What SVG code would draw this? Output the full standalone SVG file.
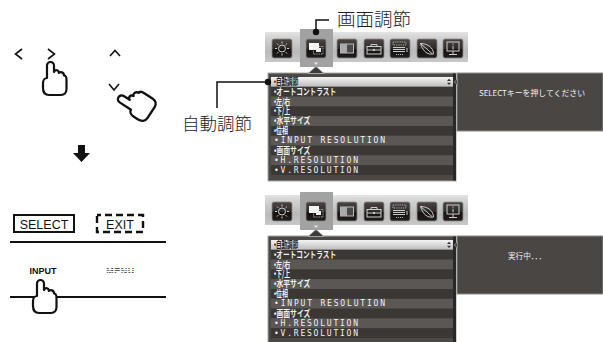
<svg xmlns="http://www.w3.org/2000/svg" xmlns:xlink="http://www.w3.org/1999/xlink" width="603" height="342" viewBox="0 0 603 342">
<style>
.jp{font-family:"Noto Sans CJK JP","Noto Sans",sans-serif;font-weight:300}
.row{font-family:"Noto Sans CJK JP","DejaVu Sans",sans-serif;font-size:9px;font-weight:bold;fill:#f2f2f2}
.b{font-family:"Liberation Sans",sans-serif}
.lat{font-family:"DejaVu Sans Mono","Liberation Mono",monospace;font-size:8px;fill:#f2f2f2}
.hand{fill:#fff;stroke:#111;stroke-width:2.2;stroke-linejoin:round}
.ln{stroke:#111;fill:none}
.ico{fill:url(#icoG);stroke:#8a8a8a;stroke-width:0.8}
.g{stroke:#cfcfcf;fill:none;stroke-width:1}
.key{font-family:"Liberation Sans","DejaVu Sans",sans-serif;fill:#111}
.msg{font-family:"Noto Sans CJK JP","DejaVu Sans",sans-serif;font-size:8px;fill:#f2f2f2}
</style>
<defs>
<linearGradient id="barG" x1="0" y1="0" x2="0" y2="1">
<stop offset="0" stop-color="#e4e4e4"/><stop offset="0.2" stop-color="#d2d2d2"/><stop offset="0.65" stop-color="#bababa"/><stop offset="1" stop-color="#c8c8c8"/>
</linearGradient>
<linearGradient id="icoG" x1="0" y1="0" x2="0" y2="1">
<stop offset="0" stop-color="#4c4643"/><stop offset="0.5" stop-color="#2e2a28"/><stop offset="0.56" stop-color="#141110"/><stop offset="1" stop-color="#221e1c"/>
</linearGradient>
<linearGradient id="hiG" x1="0" y1="0" x2="0" y2="1">
<stop offset="0" stop-color="#f4f4f4"/><stop offset="1" stop-color="#bcbcbc"/>
</linearGradient>
<pattern id="stripes" width="2" height="2" patternUnits="userSpaceOnUse">
<rect width="2" height="1" fill="#555"/>
</pattern>
<path id="hand" class="hand" d="M4,16 V3.5 A3.5,3.5 0 0 1 11,3.5 V10 C12,7.5 15.5,7.5 16,11 C17,9.5 21,10 21,13.5 C23,13.5 23.5,15.5 23.5,18 V27 C23.5,31 21,33 18,33 H6 C2,33 0,30 0,26 V21 C0,18 2,16 4,16 Z"/>

<!-- OSD toolbar with seven tabs, second tab selected -->
<g id="toolbar">
<rect x="265" y="32" width="203" height="30" fill="url(#barG)"/>
<rect x="300" y="29" width="33" height="38" fill="#a2a2a2"/>
<path d="M314,62.5 h4 l-2,2.5z" fill="#eee"/>
<g transform="translate(272,39)">
<rect class="ico" width="20" height="19" rx="2"/>
<circle cx="10" cy="9.5" r="3.5" class="g"/>
<path class="g" d="M10,2.5v2M10,14.5v2M3,9.5h2M15,9.5h2M5,4.5l1.4,1.4M13.6,13.1l1.4,1.4M15,4.5l-1.4,1.4M6.4,13.1l-1.4,1.4"/>
</g>
<g transform="translate(306,39)">
<rect class="ico" width="20" height="19" rx="2"/>
<rect x="3" y="4" width="10" height="7" fill="#f6f6f6"/>
<rect x="7.5" y="7.5" width="9.5" height="7.5" fill="none" stroke="#ddd" stroke-width="0.8" stroke-dasharray="1 0.8"/>
<rect x="10" y="9" width="5" height="4" fill="#eee"/>
</g>
<g transform="translate(337,39)">
<rect class="ico" width="20" height="19" rx="2"/>
<rect x="3.5" y="5" width="13" height="9" fill="#4a4a4a" stroke="#bbb"/>
<rect x="3.5" y="5" width="6.5" height="9" fill="#aaa"/>
</g>
<g transform="translate(364,39)">
<rect class="ico" width="20" height="19" rx="2"/>
<rect x="3" y="7.5" width="14" height="7.5" class="g"/>
<path class="g" d="M7,7.5v-2h6v2M3,11h14"/>
<rect x="9" y="10" width="2" height="2" fill="#ccc"/>
</g>
<g transform="translate(390,39)">
<rect class="ico" width="20" height="19" rx="2"/>
<rect x="3" y="3" width="13" height="3" fill="none" stroke="#ccc" stroke-width="0.8" stroke-dasharray="1 0.8"/>
<path d="M3,8.5h12M3,10.5h12M3,12.5h12" stroke="#ccc" stroke-width="1"/>
<path d="M6,15.5h7" stroke="#bbb" stroke-dasharray="1 1"/>
<path d="M17,9v4" stroke="#ccc"/>
</g>
<g transform="translate(417,39)">
<rect class="ico" width="20" height="19" rx="2"/>
<path class="g" d="M3.5,4.5 C6,13 11,16 16.5,15 C16.5,9 11,4.5 3.5,4.5Z M3.5,4.5 L15,14.5"/>
</g>
<g transform="translate(443,39)">
<rect class="ico" width="20" height="19" rx="2"/>
<rect x="4" y="3" width="12" height="9" class="g"/>
<path class="g" d="M10,12v3M6,15.5h8"/>
<path d="M10,4.5v1.2M10,6.8v3.8" stroke="#ccc"/>
</g>
</g>

<!-- drop-down list of picture adjustments -->
<g id="menu">
<rect x="268" y="73" width="188" height="108" fill="#4b4846" stroke="#a6a6a6"/>
<path d="M308,73.5 L316,66.5 L324,73.5Z" fill="#3e3b39" stroke="#a6a6a6"/>
<rect x="271" y="77" width="182" height="9.8" fill="url(#hiG)"/>
<rect x="271" y="86.8" width="182" height="9.8" fill="#3a3735"/>
<rect x="271" y="96.6" width="182" height="9.8" fill="#5a5755"/>
<rect x="271" y="106.4" width="182" height="9.8" fill="#3a3735"/>
<rect x="271" y="116.2" width="182" height="9.8" fill="#5a5755"/>
<rect x="271" y="126" width="182" height="9.8" fill="#3a3735"/>
<rect x="271" y="135.8" width="182" height="9.8" fill="#5a5755"/>
<rect x="271" y="145.6" width="182" height="9.8" fill="#3a3735"/>
<rect x="271" y="155.4" width="182" height="9.8" fill="#5a5755"/>
<rect x="271" y="165.2" width="182" height="9.8" fill="#3a3735"/>
<rect x="453" y="73.5" width="3" height="107" fill="#2a2827"/>
<path d="M447,81 l2,-2.3 l2,2.3z M447,82.8 l2,2.3 l2,-2.3z" fill="#333"/>
<text class="row" transform="translate(274,85) scale(0.62,1)" style="fill:#222"><tspan class="b">•</tspan>自動調節</text>
<text class="row" transform="translate(274,94.8) scale(0.74,1)"><tspan class="b">•</tspan>オートコントラスト</text>
<text class="row" transform="translate(274,104.6) scale(0.66,1)"><tspan class="b">•</tspan>左/右</text>
<text class="row" transform="translate(274,114.4) scale(0.66,1)"><tspan class="b">•</tspan>下/上</text>
<text class="row" transform="translate(274,124.2) scale(0.76,1)"><tspan class="b">•</tspan>水平サイズ</text>
<text class="row" transform="translate(274,134) scale(0.66,1)"><tspan class="b">•</tspan>位相</text>
<text class="lat" x="274" y="143.3" textLength="111" lengthAdjust="spacing">•INPUT RESOLUTION</text>
<text class="row" transform="translate(274,153.6) scale(0.76,1)"><tspan class="b">•</tspan>画面サイズ</text>
<text class="lat" x="274" y="162.9" textLength="84" lengthAdjust="spacing">•H.RESOLUTION</text>
<text class="lat" x="274" y="172.7" textLength="84" lengthAdjust="spacing">•V.RESOLUTION</text>
</g>

<!-- message panel beside the list -->
<g id="panel">
<rect x="457" y="73" width="146" height="58" fill="#4a4644" stroke="#8c8c8c"/>
<path d="M457.5,79 L454,82 L457.5,85Z" fill="#4a4644" stroke="#8c8c8c" stroke-width="0.8"/>
</g>
</defs>

<!-- left: arrow keys and pointing hands -->
<g id="keys-lr">
<path class="ln" stroke-width="1.6" d="M22,49 L15.5,54 L22,59 M48,49 L54.5,54 L48,59"/>
</g>
<g id="hand-lr"><use xlink:href="#hand" transform="translate(43,62)"/></g>
<g id="keys-ud">
<path class="ln" stroke-width="1.6" d="M110,56 L115,50.5 L120,56 M109,84 L114,90 L119,84"/>
</g>
<g id="hand-ud"><use xlink:href="#hand" transform="translate(136,103) rotate(-57) scale(1.08) translate(-11.75,-16.5)"/></g>
<g id="down-arrow">
<path d="M78,145 H85 V153 H90 L81.5,162 L73,153 H78 Z" fill="#111"/>
</g>

<!-- left: front-panel buttons -->
<g id="btn-select">
<rect x="14" y="215" width="60" height="17" fill="#fff" stroke="#111" stroke-width="2"/>
<text class="key" x="44" y="229" font-size="12.5" text-anchor="middle">SELECT</text>
</g>
<g id="btn-exit">
<rect x="97" y="215" width="46" height="17" fill="#fff" stroke="#111" stroke-width="2.4" stroke-dasharray="7 4" stroke-dashoffset="3"/>
<text class="key" x="120" y="229" font-size="12.5" text-anchor="middle">EXIT</text>
</g>
<g id="bezel">
<path class="ln" stroke-width="2.2" d="M10,242 H166"/>
<path class="ln" stroke-width="2" d="M10,297 H166"/>
</g>
<g id="btn-input">
<text class="key" x="43" y="273.5" font-size="9" font-weight="bold" text-anchor="middle">INPUT</text>
</g>
<g id="btn-menu">
<text class="key" x="120.5" y="273.5" font-size="9" font-weight="bold" text-anchor="middle" style="fill:url(#stripes)" letter-spacing="0.5">MENU</text>
</g>
<g id="hand-input"><use xlink:href="#hand" transform="translate(33,280)"/></g>

<!-- upper screen: list waiting for SELECT -->
<g id="screen-1">
<use xlink:href="#toolbar"/>
<use xlink:href="#menu"/>
<use xlink:href="#panel"/>
<text class="msg" x="532" y="96" text-anchor="middle" textLength="106" lengthAdjust="spacingAndGlyphs">SELECTキーを押してください</text>
</g>

<!-- lower screen: adjustment running -->
<g id="screen-2" transform="translate(0,163)">
<use xlink:href="#toolbar"/>
<use xlink:href="#menu"/>
<use xlink:href="#panel"/>
<text class="msg" x="527" y="96" text-anchor="middle" textLength="38" lengthAdjust="spacingAndGlyphs">実行中．．．</text>
</g>

<!-- callouts -->
<g id="callouts">
<path class="ln" stroke-width="1.5" d="M316,32 V20 H329"/>
<circle cx="316" cy="32" r="3.2" fill="#111"/>
<text class="jp" x="337" y="26" font-size="18.5" fill="#222">画面調節</text>
<path class="ln" stroke-width="1.5" d="M268,82 H217 V108"/>
<circle cx="268" cy="82" r="3.2" fill="#111"/>
<text class="jp" x="182" y="130" font-size="17.5" fill="#222">自動調節</text>
</g>
</svg>
